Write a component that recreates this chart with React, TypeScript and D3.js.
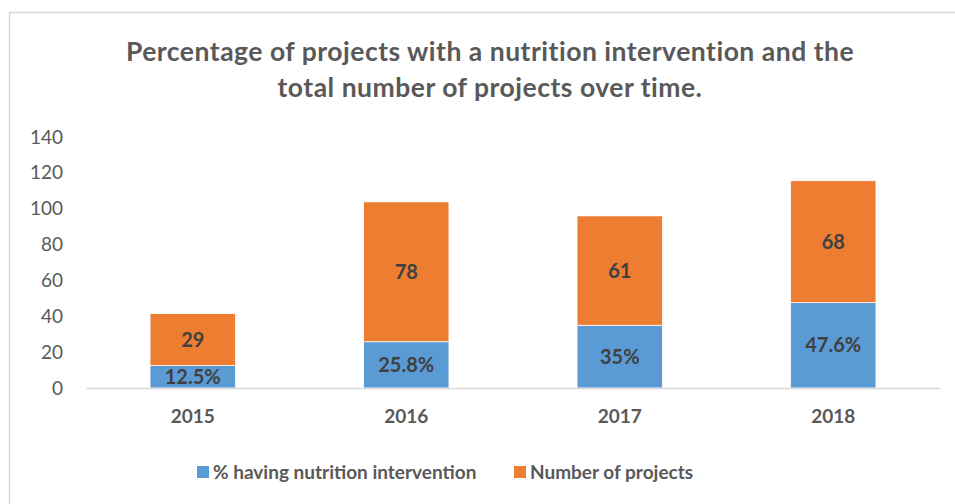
import React, { useEffect, useRef } from 'react';
import * as d3 from 'd3';

const years = ['2015', '2016', '2017', '2018'];
const pctNutrition = [12.5, 25.8, 35, 47.6];
const numProjects = [29, 78, 61, 68];
const yTicks = [0, 20, 40, 60, 80, 100, 120, 140];
const seriesNames = ['% having nutrition intervention', 'Number of projects'];
const colors = ['#5b9bd5', '#ed7d31'];

const W = 955;
const H = 504;
const FONT = 'Lato, "Open Sans", sans-serif';

export default function App() {
  const ref = useRef<SVGSVGElement>(null);

  useEffect(() => {
    document.body.style.margin = '0';
    const svg = d3.select(ref.current);
    svg.selectAll('*').remove();

    // frame
    svg.append('rect')
      .attr('x', 9.5).attr('y', 12.5)
      .attr('width', 960).attr('height', 510)
      .attr('fill', '#fff')
      .attr('stroke', '#d9d9d9')
      .attr('stroke-width', 1.5);

    // title
    const title = svg.append('text')
      .attr('text-anchor', 'middle')
      .attr('font-family', FONT)
      .attr('font-weight', 'bold')
      .attr('font-size', 26.5)
      .attr('letter-spacing', 0.5)
      .attr('fill', '#595959');
    title.append('tspan').attr('x', 490).attr('y', 61)
      .text('Percentage of projects with a nutrition intervention and the');
    title.append('tspan').attr('x', 490).attr('y', 97)
      .text('total number of projects over time.');

    const x = d3.scaleBand().domain(years).range([86, 940]).paddingInner(0.6).paddingOuter(0.3);
    const y = d3.scaleLinear().domain([0, 140]).range([388, 137]);

    // y tick labels
    const yAxis = d3.axisLeft(y).tickValues(yTicks).tickSize(0).tickPadding(0);
    const ya = svg.append('g').attr('transform', 'translate(63,0)').call(yAxis);
    ya.select('.domain').remove();
    ya.selectAll('text')
      .attr('font-family', FONT)
      .attr('font-size', 19)
      .attr('fill', '#595959');

    const stacked = years.map((yr, i) => ({
      yr,
      segs: [
        { y0: 0, y1: pctNutrition[i], label: pctNutrition[i] + '%', c: colors[0] },
        { y0: pctNutrition[i], y1: pctNutrition[i] + numProjects[i], label: String(numProjects[i]), c: colors[1] },
      ],
    }));

    const g = svg.append('g');
    stacked.forEach((d) => {
      d.segs.forEach((s) => {
        g.append('rect')
          .attr('x', x(d.yr)!)
          .attr('width', x.bandwidth())
          .attr('y', y(s.y1))
          .attr('height', y(s.y0) - y(s.y1))
          .attr('fill', s.c)
          .attr('stroke', '#fff')
          .attr('stroke-width', 0.75);
        g.append('text')
          .attr('x', x(d.yr)! + x.bandwidth() / 2)
          .attr('y', (y(s.y0) + y(s.y1)) / 2)
          .attr('dy', '0.35em')
          .attr('text-anchor', 'middle')
          .attr('font-family', FONT)
          .attr('font-weight', 'bold')
          .attr('font-size', 20)
          .attr('fill', '#404040')
          .text(s.label);
      });
    });

    // x axis line
    svg.append('line')
      .attr('x1', 86).attr('x2', 940)
      .attr('y1', y(0) + 0.5).attr('y2', y(0) + 0.5)
      .attr('stroke', '#d9d9d9').attr('stroke-width', 1.5);

    // category labels
    const xAxis = d3.axisBottom(x).tickSize(0).tickPadding(0);
    const xa = svg.append('g').attr('transform', `translate(0,${y(0) + 21})`).call(xAxis);
    xa.select('.domain').remove();
    xa.selectAll('text')
      .attr('font-family', FONT)
      .attr('font-weight', 'bold')
      .attr('font-size', 19)
      .attr('fill', '#595959');

    // legend
    const legendX = [197, 514];
    seriesNames.forEach((name, i) => {
      const lg = svg.append('g').attr('transform', `translate(${legendX[i]},466)`);
      lg.append('rect').attr('width', 12).attr('height', 12).attr('fill', colors[i]);
      lg.append('text')
        .attr('x', 16).attr('y', 6).attr('dy', '0.35em')
        .attr('font-family', FONT)
        .attr('font-weight', 'bold')
        .attr('font-size', 19)
        .attr('fill', '#595959')
        .text(name);
    });
  }, []);

  return <svg ref={ref} width={W} height={H} style={{ display: 'block' }} />;
}
